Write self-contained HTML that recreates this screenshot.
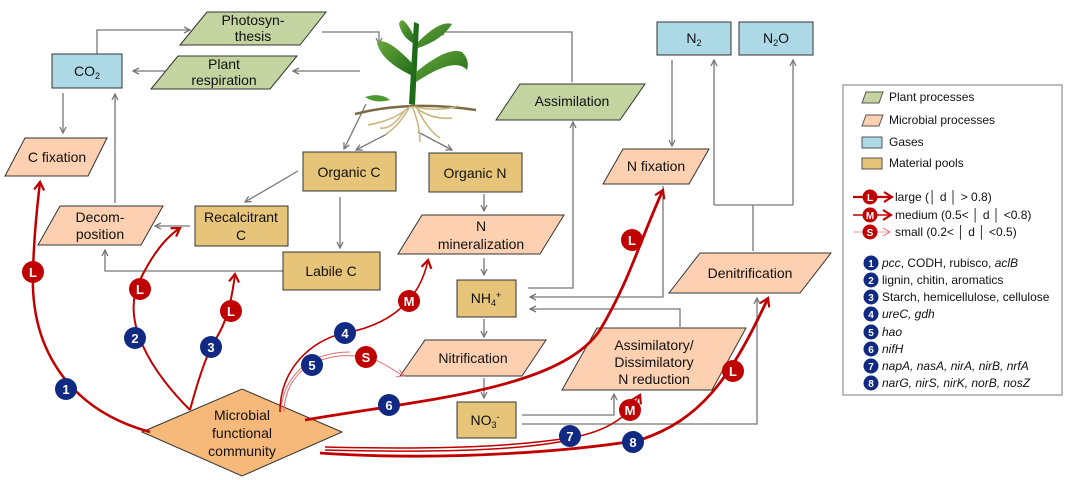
<!DOCTYPE html>
<html><head><meta charset="utf-8"><style>
body{margin:0;background:#fff}
svg{display:block;font-family:"Liberation Sans",Arial,sans-serif}
.g{stroke:#777;stroke-width:1.3;fill:none}
.r{stroke:#c00000;fill:none}
.t{font-size:14px;fill:#111;text-anchor:middle}
.lt{font-size:12px;fill:#111}
</style></head><body>
<svg width="1080" height="480" viewBox="0 0 1080 480">
<defs>
<marker id="ag" markerWidth="8" markerHeight="8" refX="7" refY="4" orient="auto" markerUnits="userSpaceOnUse"><path d="M1,1 L7,4 L1,7" fill="none" stroke="#777" stroke-width="1.3"/></marker>
<marker id="ar" markerWidth="12" markerHeight="12" refX="10" refY="6" orient="auto" markerUnits="userSpaceOnUse"><path d="M2,1 L10,6 L2,11" fill="none" stroke="#c00000" stroke-width="2.2"/></marker>
<marker id="ap" markerWidth="10" markerHeight="10" refX="8" refY="5" orient="auto" markerUnits="userSpaceOnUse"><path d="M1,1 L8,5 L1,9" fill="none" stroke="#e07070" stroke-width="1"/></marker>
<linearGradient id="lf" x1="0" y1="0" x2="1" y2="1"><stop offset="0" stop-color="#6aa83a"/><stop offset="1" stop-color="#1f6a1a"/></linearGradient>
</defs>

<path class="g" d="M97,54 V30 H190" marker-end="url(#ag)"/>
<path class="g" d="M322,32 H379 V44" marker-end="url(#ag)"/>
<path class="g" d="M572,82 V32 H438" marker-end="url(#ag)"/>
<path class="g" d="M360,71 H293" marker-end="url(#ag)"/>
<path class="g" d="M165,71 H133" marker-end="url(#ag)"/>
<path class="g" d="M63,93 V133" marker-end="url(#ag)"/>
<path class="g" d="M115,203 V94" marker-end="url(#ag)"/>
<path class="g" d="M190,226 H155" marker-end="url(#ag)"/>
<path class="g" d="M298,171 L245,202" marker-end="url(#ag)"/>
<path class="g" d="M340,197 V248" marker-end="url(#ag)"/>
<path class="g" d="M283,271 H105 V250" marker-end="url(#ag)"/>
<path class="g" d="M366,104 L344,149" marker-end="url(#ag)"/>
<path class="g" d="M387,134 L356,150" marker-end="url(#ag)"/>
<path class="g" d="M418,132 L452,150" marker-end="url(#ag)"/>
<path class="g" d="M484,194 V211" marker-end="url(#ag)"/>
<path class="g" d="M484,258 V275" marker-end="url(#ag)"/>
<path class="g" d="M484,319 V337" marker-end="url(#ag)"/>
<path class="g" d="M484,378 V398" marker-end="url(#ag)"/>
<path class="g" d="M528,288 H573 V122" marker-end="url(#ag)"/>
<path class="g" d="M672,60 V146" marker-end="url(#ag)"/>
<path class="g" d="M663,186 V297 H530" marker-end="url(#ag)"/>
<path class="g" d="M680,327 V309 H530" marker-end="url(#ag)"/>
<path class="g" d="M522,415 H614 V394" marker-end="url(#ag)"/>
<path class="g" d="M522,424 H757 V298" marker-end="url(#ag)"/>
<path class="g" d="M753,251 V205"/>
<path class="g" d="M714,205 H793"/>
<path class="g" d="M714,205 V60" marker-end="url(#ag)"/>
<path class="g" d="M793,205 V60" marker-end="url(#ag)"/>

<!-- plant -->
<g>
<path d="M355,114 Q410,100 476,110" stroke="#7a6a45" stroke-width="2.5" fill="none"/>
<path d="M410,106 Q400,125 385,135 M412,106 Q420,125 420,142 M414,106 Q430,120 452,118 M408,108 Q395,120 368,125 M416,107 Q440,112 458,106 M405,110 Q392,130 380,128 M418,110 Q428,130 440,138" stroke="#c9b47a" stroke-width="1.5" fill="none"/>
<path d="M409,104 L414,22 L419,24 L415,105Z" fill="#1e6b1a"/>
<path d="M413,64 Q385,35 377,43 Q382,62 413,76Z" fill="url(#lf)"/>
<path d="M415,38 Q402,12 399,24 Q402,38 415,44Z" fill="url(#lf)"/>
<path d="M418,42 Q440,20 452,24 Q442,40 418,48Z" fill="url(#lf)"/>
<path d="M416,72 Q448,46 462,52 Q470,60 467,70 Q455,56 416,82Z" fill="url(#lf)"/>
<path d="M365,97 Q380,92 390,100 Q375,104 365,97Z" fill="#4a9a30"/>
</g>

<rect x="52" y="54" width="70" height="34" fill="#add8e6" stroke="#333"/>
<text class="t" x="87" y="76">CO<tspan font-size="9" dy="3">2</tspan></text>
<polygon points="180,45 207,12 326,12 300,45" fill="#c4d4a0" stroke="#333"/>
<text class="t" x="253" y="25">Photosyn-</text><text class="t" x="253" y="41">thesis</text>
<polygon points="151,89 178,56 297,56 270,89" fill="#c4d4a0" stroke="#333"/>
<text class="t" x="224" y="69">Plant</text><text class="t" x="224" y="85">respiration</text>
<polygon points="496,120 520,84 645,84 620,120" fill="#c4d4a0" stroke="#333"/>
<text class="t" x="572" y="106">Assimilation</text>
<polygon points="5,176 25,138 107,138 88,176" fill="#fdd0b1" stroke="#333"/>
<text class="t" x="57" y="162">C fixation</text>
<polygon points="38,245 60,206 163,206 141,245" fill="#fdd0b1" stroke="#333"/>
<text class="t" x="100" y="222">Decom-</text><text class="t" x="100" y="239">position</text>
<rect x="195" y="206" width="93" height="40" fill="#e6c57a" stroke="#333"/>
<text class="t" x="241" y="222">Recalcitrant</text><text class="t" x="241" y="240">C</text>
<rect x="303" y="152" width="93" height="39" fill="#e6c57a" stroke="#333"/>
<text class="t" x="349" y="177">Organic C</text>
<rect x="429" y="153" width="93" height="39" fill="#e6c57a" stroke="#333"/>
<text class="t" x="475" y="178">Organic N</text>
<rect x="283" y="252" width="97" height="38" fill="#e6c57a" stroke="#333"/>
<text class="t" x="331" y="276">Labile C</text>
<polygon points="398,254 422,215 564,215 540,254" fill="#fdd0b1" stroke="#333"/>
<text class="t" x="481" y="231">N</text><text class="t" x="481" y="249">mineralization</text>
<rect x="457" y="280" width="59" height="37" fill="#e6c57a" stroke="#333"/>
<text class="t" x="486" y="303">NH<tspan font-size="9" dy="3">4</tspan><tspan font-size="9" dy="-8">+</tspan></text>
<polygon points="400,376 425,340 546,340 522,376" fill="#fdd0b1" stroke="#333"/>
<text class="t" x="473" y="363">Nitrification</text>
<rect x="457" y="402" width="59" height="36" fill="#e6c57a" stroke="#333"/>
<text class="t" x="485" y="425">NO<tspan font-size="9" dy="3">3</tspan><tspan font-size="9" dy="-8">-</tspan></text>
<polygon points="562,390 597,328 746,328 712,390" fill="#fdd0b1" stroke="#333"/>
<text class="t" x="654" y="350">Assimilatory/</text><text class="t" x="654" y="367">Dissimilatory</text><text class="t" x="654" y="384">N reduction</text>
<polygon points="603,184 623,149 709,149 689,184" fill="#fdd0b1" stroke="#333"/>
<text class="t" x="656" y="171">N fixation</text>
<rect x="657" y="22" width="74" height="33" fill="#add8e6" stroke="#333"/>
<text class="t" x="694" y="43">N<tspan font-size="9" dy="3">2</tspan></text>
<rect x="739" y="22" width="74" height="33" fill="#add8e6" stroke="#333"/>
<text class="t" x="776" y="43">N<tspan font-size="9" dy="3">2</tspan><tspan dy="-3">O</tspan></text>
<polygon points="669,293 700,253 831,253 800,293" fill="#fdd0b1" stroke="#333"/>
<text class="t" x="750" y="278">Denitrification</text>
<polygon points="142,432 242,389 342,432 242,476" fill="#f7b97a" stroke="#333"/>
<text class="t" x="242" y="420">Microbial</text><text class="t" x="242" y="438">functional</text><text class="t" x="242" y="456">community</text>

<path class="r" stroke-width="2.5" d="M150,432 C70,410 30,350 33,272 C34,230 38,200 40,182" marker-end="url(#ar)"/>
<path class="r" stroke-width="2" d="M190,410 C150,370 120,320 140,280 C152,255 165,238 180,228" marker-end="url(#ar)"/>
<path class="r" stroke-width="2" d="M190,410 C198,380 205,360 212,345 C222,330 230,315 235,274" marker-end="url(#ar)"/>
<path class="r" stroke-width="1.6" d="M280,412 C280,370 310,340 345,333 C390,325 420,300 428,260" marker-end="url(#ar)"/>
<path stroke="#e07070" stroke-width="1" fill="none" d="M284,412 C285,370 320,350 366,357 C385,362 395,372 404,376" marker-end="url(#ap)"/>
<path stroke="#e07070" stroke-width="1" fill="none" d="M281,410 C284,375 310,352 350,352"/>
<path class="r" stroke-width="2.8" d="M305,420 C420,400 560,390 600,330 C630,280 640,240 663,190" marker-end="url(#ar)"/>
<path class="r" stroke-width="1.5" d="M325,447 C450,450 520,446 575,437 C610,430 630,415 640,395" marker-end="url(#ar)"/>
<path class="r" stroke-width="1.5" d="M325,450 C450,453 520,450 570,440"/>
<path class="r" stroke-width="2.8" d="M320,453 C450,462 580,450 640,440 C700,420 730,380 768,298" marker-end="url(#ar)"/>

<g font-size="13" font-weight="bold" fill="#fff" text-anchor="middle">
<g fill="#c00000"><circle cx="33" cy="272" r="11"/><circle cx="140" cy="289" r="11"/><circle cx="231" cy="311" r="11"/><circle cx="409" cy="301" r="11"/><circle cx="366" cy="357" r="11"/><circle cx="632" cy="240" r="11"/><circle cx="630" cy="410" r="11"/><circle cx="733" cy="371" r="11"/></g>
<text x="33" y="277">L</text><text x="140" y="294">L</text><text x="231" y="316">L</text><text x="409" y="306">M</text><text x="366" y="362">S</text><text x="632" y="245">L</text><text x="630" y="415">M</text><text x="733" y="376">L</text>
<g fill="#102a83"><circle cx="66" cy="389" r="11"/><circle cx="135" cy="338" r="11"/><circle cx="211" cy="347" r="11"/><circle cx="345" cy="333" r="11"/><circle cx="312" cy="365" r="11"/><circle cx="389" cy="405" r="11"/><circle cx="570" cy="436" r="11"/><circle cx="633" cy="442" r="11"/></g>
<text x="66" y="394">1</text><text x="135" y="343">2</text><text x="211" y="352">3</text><text x="345" y="338">4</text><text x="312" y="370">5</text><text x="389" y="410">6</text><text x="570" y="441">7</text><text x="633" y="447">8</text>
</g>

<rect x="843" y="85" width="219" height="310" fill="#fff" stroke="#999" stroke-width="1.3"/>
<polygon points="862,103 866,92 883,92 879,103" fill="#c4d4a0" stroke="#555"/>
<text class="lt" x="889" y="101">Plant processes</text>
<polygon points="862,126 866,115 883,115 879,126" fill="#fdd0b1" stroke="#555"/>
<text class="lt" x="889" y="124">Microbial processes</text>
<rect x="862" y="137" width="20" height="11" fill="#add8e6" stroke="#555"/>
<text class="lt" x="889" y="146">Gases</text>
<rect x="862" y="158" width="20" height="11" fill="#e6c57a" stroke="#555"/>
<text class="lt" x="889" y="167">Material pools</text>
<path d="M853,197 H892" stroke="#c00000" stroke-width="2.2" marker-end="url(#ar)"/>
<path d="M853,215 H891" stroke="#c00000" stroke-width="1.5" marker-end="url(#ar)"/>
<path d="M853,232 H890" stroke="#f0a0a0" stroke-width="1" marker-end="url(#ap)"/>
<g font-size="10" font-weight="bold" fill="#fff" text-anchor="middle">
<circle cx="870" cy="197" r="7.5" fill="#c00000"/><text x="870" y="201">L</text>
<circle cx="870" cy="215" r="7.5" fill="#c00000"/><text x="870" y="219">M</text>
<circle cx="870" cy="232" r="7.5" fill="#c00000"/><text x="870" y="236">S</text>
</g>
<text class="lt" x="895" y="201">large (│ d │ &gt; 0.8)</text>
<text class="lt" x="895" y="219">medium (0.5&lt; │ d │ &lt;0.8)</text>
<text class="lt" x="895" y="236">small (0.2&lt; │ d │ &lt;0.5)</text>
<g font-size="10" font-weight="bold" fill="#fff" text-anchor="middle">
<g fill="#102a83"><circle cx="871" cy="263" r="7.5"/><circle cx="871" cy="280" r="7.5"/><circle cx="871" cy="297" r="7.5"/><circle cx="871" cy="314" r="7.5"/><circle cx="871" cy="332" r="7.5"/><circle cx="871" cy="349" r="7.5"/><circle cx="871" cy="366" r="7.5"/><circle cx="871" cy="383" r="7.5"/></g>
<text x="871" y="267">1</text><text x="871" y="284">2</text><text x="871" y="301">3</text><text x="871" y="318">4</text><text x="871" y="336">5</text><text x="871" y="353">6</text><text x="871" y="370">7</text><text x="871" y="387">8</text>
</g>
<text class="lt" x="882" y="267"><tspan font-style="italic">pcc</tspan>, CODH, rubisco, <tspan font-style="italic">aclB</tspan></text>
<text class="lt" x="882" y="284">lignin, chitin, aromatics</text>
<text class="lt" x="882" y="301">Starch, hemicellulose, cellulose</text>
<text class="lt" x="882" y="318" font-style="italic">ureC, gdh</text>
<text class="lt" x="882" y="336" font-style="italic">hao</text>
<text class="lt" x="882" y="353" font-style="italic">nifH</text>
<text class="lt" x="882" y="370" font-style="italic">napA, nasA, nirA, nirB, nrfA</text>
<text class="lt" x="882" y="387" font-style="italic">narG, nirS, nirK, norB, nosZ</text>
</svg>
</body></html>
